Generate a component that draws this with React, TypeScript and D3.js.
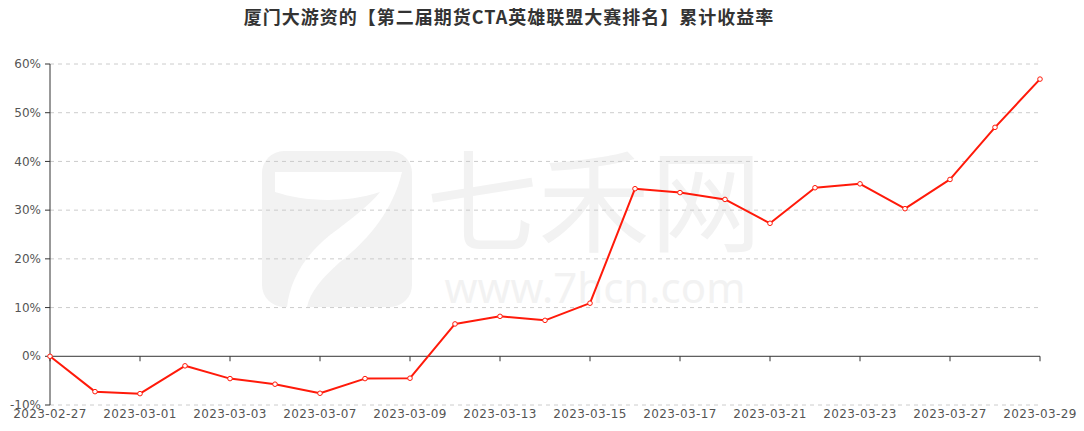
import * as d3 from 'd3'

const title = '厦门大游资的【第二届期货CTA英雄联盟大赛排名】累计收益率'

const dates = [
  '2023-02-27', '2023-02-28', '2023-03-01', '2023-03-02', '2023-03-03', '2023-03-06',
  '2023-03-07', '2023-03-08', '2023-03-09', '2023-03-10', '2023-03-13', '2023-03-14',
  '2023-03-15', '2023-03-16', '2023-03-17', '2023-03-20', '2023-03-21', '2023-03-22',
  '2023-03-23', '2023-03-24', '2023-03-27', '2023-03-28', '2023-03-29',
]

// cumulative return, %
const returns = [
  0, -7.26, -7.67, -1.96, -4.58, -5.73, -7.59, -4.58, -4.5, 6.64, 8.2, 7.38,
  10.9, 34.4, 33.6, 32.2, 27.3, 34.6, 35.4, 30.3, 36.3, 47.0, 56.9,
]

const yTickValues = [-10, 0, 10, 20, 30, 40, 50, 60]

export default function App() {
  const width = 1084
  const height = 431
  const margin = { top: 64, right: 44, bottom: 26, left: 50 }
  const innerW = width - margin.left - margin.right
  const innerH = height - margin.top - margin.bottom

  const xScale = d3.scalePoint<string>().domain(dates).range([0, innerW]).padding(0)
  const yScale = d3.scaleLinear().domain([-10, 60]).range([innerH, 0])

  const xTicks = dates.filter((_, i) => i % 2 === 0)

  const line = d3
    .line<number>()
    .x((_, i) => xScale(dates[i])!)
    .y((d) => yScale(d))

  const axisColor = '#333'
  const labelColor = '#555'
  const wm = '#f2f2f2'

  return (
    <div style={{ position: 'absolute', left: 0, top: 0 }}>
      <svg width={width} height={height} fontFamily="DejaVu Sans, sans-serif" style={{ display: 'block' }}>
        <rect width={width} height={height} fill="#fff" />

        {/* watermark */}
        <g>
          <rect x={262} y={151} width={150} height={156} rx={22} fill={wm} />
          <path
            d="M275 172 H402 C392 215 362 245 340 262 C322 278 310 292 307 307 H287 C290 280 305 255 330 235 C350 220 370 205 380 192 C340 205 300 200 275 192 Z"
            fill="#fff"
          />
          <text x={594} y={244} textAnchor="middle" fontSize={112} fill={wm} fontFamily="Noto Sans CJK SC">
            七禾网
          </text>
          <text x={595} y={303} textAnchor="middle" fontSize={42} fill={wm} fontFamily="Noto Sans">
            www.7hcn.com
          </text>
        </g>

        <text
          x={509}
          y={24}
          textAnchor="middle"
          fontSize={18}
          fontWeight="bold"
          fill="#333"
          letterSpacing={1}
          fontFamily="Noto Sans CJK SC"
        >
          {title}
        </text>

        <g transform={`translate(${margin.left},${margin.top})`}>
          {/* grid */}
          {yTickValues.map((v) => (
            <line
              key={v}
              x1={0}
              x2={innerW}
              y1={yScale(v)}
              y2={yScale(v)}
              stroke="#ccc"
              strokeDasharray="4 4"
              opacity={v === 0 ? 0 : 1}
            />
          ))}

          {/* y axis */}
          <line x1={0} x2={0} y1={0} y2={innerH} stroke={axisColor} />
          {yTickValues.map((v) => (
            <g key={v} transform={`translate(0,${yScale(v)})`}>
              <line x1={-5} x2={0} stroke={axisColor} />
              <text x={-9} dy="0.35em" textAnchor="end" fontSize={12} fill={labelColor}>
                {v}%
              </text>
            </g>
          ))}

          {/* x axis at zero */}
          <g transform={`translate(0,${yScale(0)})`}>
            <line x1={0} x2={innerW} stroke={axisColor} />
            {xTicks.map((d) => (
              <line key={d} x1={xScale(d)} x2={xScale(d)} y1={0} y2={5} stroke={axisColor} />
            ))}
          </g>
          {xTicks.map((d) => (
            <text
              key={d}
              x={xScale(d)}
              y={innerH + 13}
              textAnchor="middle"
              fontSize={12}
              letterSpacing={0.4}
              fill={labelColor}
            >
              {d}
            </text>
          ))}

          {/* series */}
          <path d={line(returns)!} fill="none" stroke="#ff1a0a" strokeWidth={2} strokeLinejoin="round" />
          {returns.map((v, i) => (
            <circle
              key={dates[i]}
              cx={xScale(dates[i])}
              cy={yScale(v)}
              r={2.3}
              fill="#fff"
              stroke="#ff1a0a"
              strokeWidth={1}
            />
          ))}
        </g>
      </svg>
    </div>
  )
}
